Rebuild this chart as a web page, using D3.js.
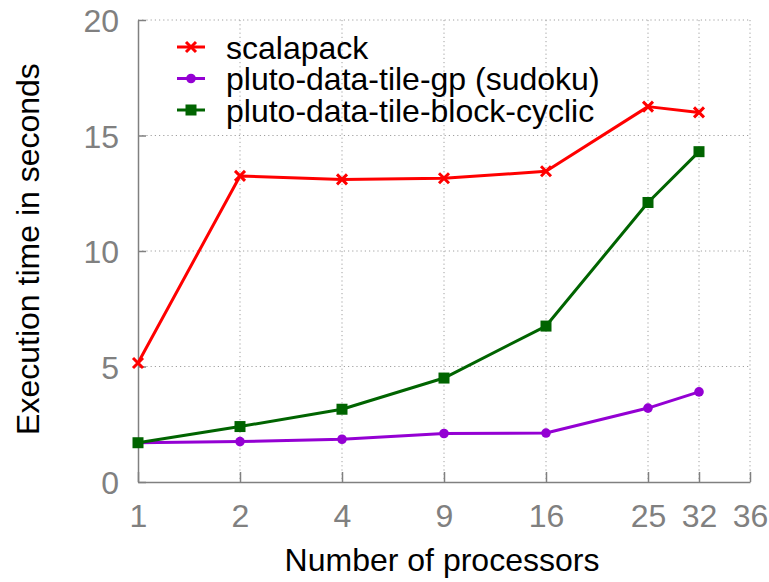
<!DOCTYPE html>
<html>
<head>
<meta charset="utf-8">
<script src="https://cdn.jsdelivr.net/npm/d3@7/dist/d3.min.js"></script>
<style>
  html, body { margin: 0; padding: 0; background: #fff; }
  svg { display: block; font-family: "Liberation Sans", Arial, sans-serif; }
</style>
</head>
<body>
<svg id="chart" width="769" height="582"></svg>
<script>
// ---- data ----
const tickLabels = ["1", "2", "4", "9", "16", "25", "32", "36"];
const tickSlots = [1, 2, 3, 4, 5, 6, 6.5, 7];       // slot of each tick on the x axis
const procLabels = ["1", "2", "4", "9", "16", "25", "32"];
const procSlots = [1, 2, 3, 4, 5, 6, 6.5];
const scalapack = [5.15, 13.25, 13.1, 13.15, 13.45, 16.25, 16.0];
const plutoGp = [1.7, 1.75, 1.85, 2.1, 2.12, 3.2, 3.9];
const plutoBlockCyclic = [1.7, 2.4, 3.15, 4.5, 6.75, 12.1, 14.3];
const yTicks = [0, 5, 10, 15, 20];
const seriesNames = ["scalapack", "pluto-data-tile-gp (sudoku)", "pluto-data-tile-block-cyclic"];

const series = [
  { name: seriesNames[0], values: scalapack, color: "#ff0000", marker: "cross" },
  { name: seriesNames[1], values: plutoGp, color: "#9400d3", marker: "circle" },
  { name: seriesNames[2], values: plutoBlockCyclic, color: "#006400", marker: "square" }
];

const svg = d3.select("#chart");
const mLeft = 138, mRight = 750, mTop = 20, mBottom = 482;
const fs = 32;

const x = d3.scaleLinear().domain([1, 7]).range([mLeft, mRight]);
const y = d3.scaleLinear().domain([0, 20]).range([mBottom, mTop]);
const gray = "#808080";

// grid
const grid = svg.append("g");
grid.selectAll("line.vg").data(tickSlots.slice(1)).join("line")
  .attr("x1", d => x(d)).attr("x2", d => x(d))
  .attr("y1", mTop).attr("y2", mBottom)
  .attr("stroke", "#a0a0a0").attr("stroke-width", 1).attr("stroke-dasharray", "1.2,3");
grid.selectAll("line.hg").data(yTicks.slice(1)).join("line")
  .attr("x1", mLeft).attr("x2", mRight)
  .attr("y1", d => y(d)).attr("y2", d => y(d))
  .attr("stroke", "#a0a0a0").attr("stroke-width", 1).attr("stroke-dasharray", "1.2,3");

// axes
const xAxis = d3.axisBottom(x).tickValues(tickSlots)
  .tickFormat((d, i) => tickLabels[i]).tickSizeInner(-10).tickSizeOuter(0).tickPadding(22);
const gx = svg.append("g").attr("transform", `translate(0,${mBottom})`).call(xAxis);
const yAxis = d3.axisLeft(y).tickValues(yTicks).tickSizeInner(-8).tickSizeOuter(0).tickPadding(19);
const gy = svg.append("g").attr("transform", `translate(${mLeft},0)`).call(yAxis);
[gx, gy].forEach(g => {
  g.select(".domain").attr("stroke", gray).attr("stroke-width", 1.5);
  g.selectAll(".tick line").attr("stroke", gray).attr("stroke-width", 1.5);
  g.selectAll(".tick text").attr("fill", gray).attr("font-size", fs)
    .attr("font-family", "Liberation Sans, Arial, sans-serif");
});
gx.selectAll(".tick text").attr("dy", "0.71em");
gy.selectAll(".tick text").attr("dy", "0.36em");

// axis titles
svg.append("text").attr("x", 442).attr("y", 571).attr("text-anchor", "middle")
  .attr("font-size", fs).attr("fill", "#000").text("Number of processors");
svg.append("text").attr("transform", "translate(39,249) rotate(-90)")
  .attr("text-anchor", "middle").attr("font-size", fs).attr("fill", "#000")
  .text("Execution time in seconds");

// markers
function drawMarker(g, type, color, cx, cy) {
  if (type === "cross") {
    const s = 5;
    g.append("path").attr("d", `M${cx - s},${cy - s}L${cx + s},${cy + s}M${cx - s},${cy + s}L${cx + s},${cy - s}`)
      .attr("stroke", color).attr("stroke-width", 3).attr("fill", "none");
  } else if (type === "circle") {
    g.append("circle").attr("cx", cx).attr("cy", cy).attr("r", 4.8).attr("fill", color);
  } else {
    g.append("rect").attr("x", cx - 5.5).attr("y", cy - 5.5).attr("width", 11).attr("height", 11).attr("fill", color);
  }
}

const line = d3.line().x((d, i) => x(procSlots[i])).y(d => y(d));
series.forEach(s => {
  const g = svg.append("g");
  g.append("path").datum(s.values).attr("d", line)
    .attr("fill", "none").attr("stroke", s.color).attr("stroke-width", 3).attr("stroke-linejoin", "round");
  s.values.forEach((v, i) => drawMarker(g, s.marker, s.color, x(procSlots[i]), y(v)));
});

// legend
const legend = svg.append("g");
series.forEach((s, i) => {
  const cy = 47 + i * 31.5;
  legend.append("line").attr("x1", 177).attr("x2", 205).attr("y1", cy).attr("y2", cy)
    .attr("stroke", s.color).attr("stroke-width", 3);
  drawMarker(legend, s.marker, s.color, 191, cy);
  legend.append("text").attr("x", 226).attr("y", cy).attr("dy", "0.36em")
    .attr("font-size", fs).attr("fill", "#000").text(s.name);
});
</script>
</body>
</html>
